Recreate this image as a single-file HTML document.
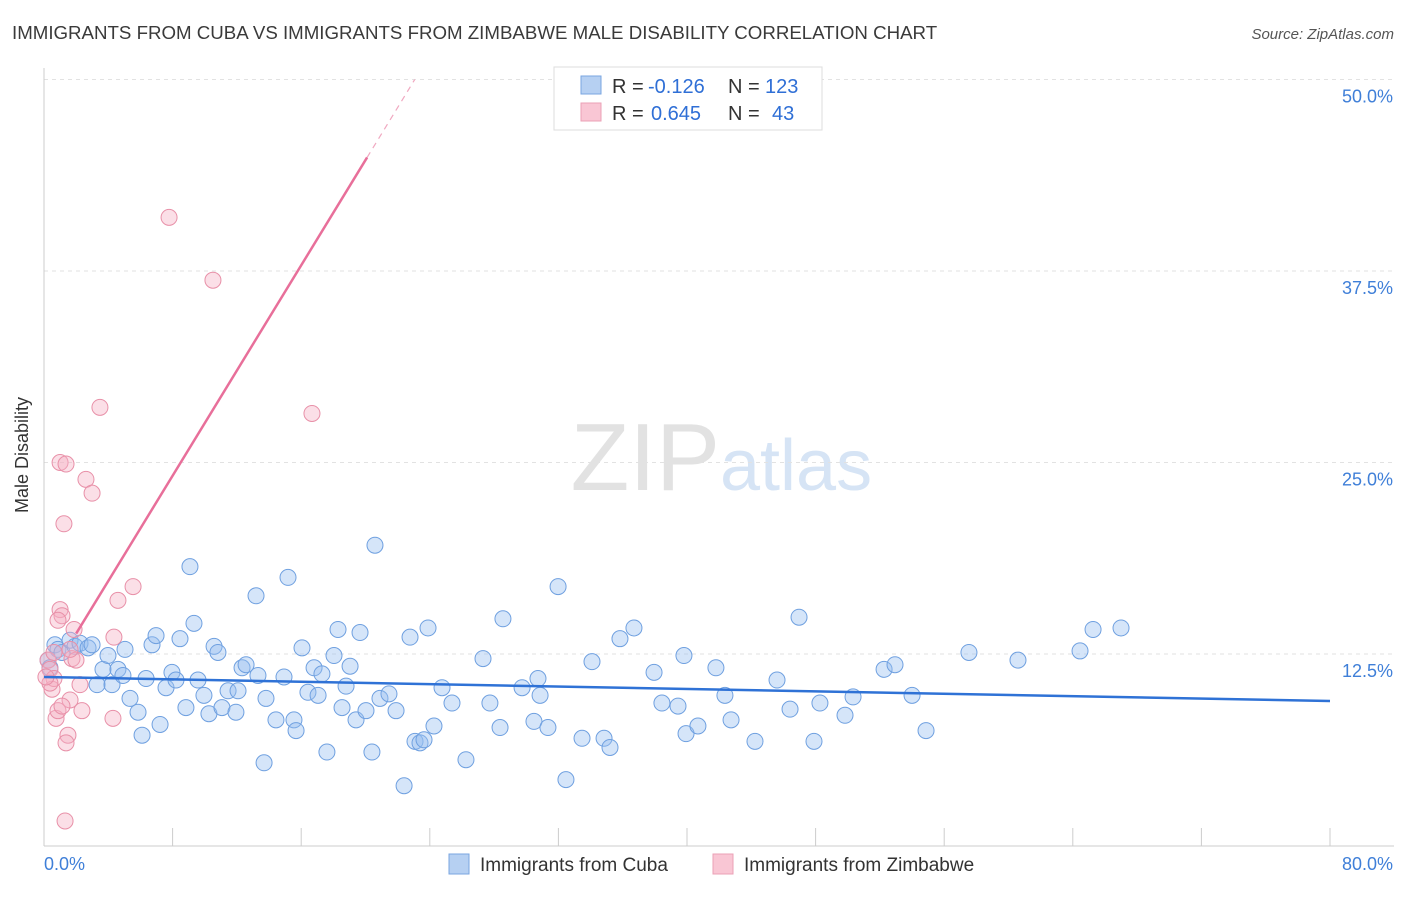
<!DOCTYPE html>
<html><head><meta charset="utf-8"><style>
body{margin:0;background:#fff;font-family:"Liberation Sans",sans-serif;}
svg text{font-family:"Liberation Sans",sans-serif;}
</style></head><body>
<svg id="chart" width="1406" height="892">
<text x="12" y="39" font-size="18.7" fill="#3a3a3a">IMMIGRANTS FROM CUBA VS IMMIGRANTS FROM ZIMBABWE MALE DISABILITY CORRELATION CHART</text>
<text x="1394" y="39" font-size="15" fill="#555" font-style="italic" text-anchor="end">Source: ZipAtlas.com</text>
<text x="720" y="490" font-size="96" fill="#e2e2e2" text-anchor="end" font-family="Liberation Serif">ZIP</text>
<text x="720" y="490" font-size="72" fill="#d6e4f5">atlas</text>
<g id="grid"></g>
<g id="axes"></g>
<g id="pts"></g>
<g id="lines"></g>
<text x="28" y="455" font-size="18" fill="#333" text-anchor="middle" transform="rotate(-90 28 455)">Male Disability</text>
<g>
<rect x="554" y="67" width="268" height="63" fill="#fff" stroke="#ddd"/>
<rect x="581" y="76" width="20" height="18" fill="#b6d0f2" stroke="#7aa6e0"/>
<rect x="581" y="103" width="20" height="18" fill="#f9c6d4" stroke="#eba0b6"/>
<text x="612" y="93" font-size="20" fill="#333">R =</text>
<text x="648" y="93" font-size="20" fill="#2f6fd6">-0.126</text>
<text x="728" y="93" font-size="20" fill="#333">N =</text>
<text x="765" y="93" font-size="20" fill="#2f6fd6">123</text>
<text x="612" y="120" font-size="20" fill="#333">R =</text>
<text x="651" y="120" font-size="20" fill="#2f6fd6">0.645</text>
<text x="728" y="120" font-size="20" fill="#333">N =</text>
<text x="772" y="120" font-size="20" fill="#2f6fd6">43</text>
</g>
<g>
<rect x="449" y="854" width="20" height="20" fill="#b6d0f2" stroke="#7aa6e0"/>
<text x="480" y="871" font-size="19" fill="#333">Immigrants from Cuba</text>
<rect x="713" y="854" width="20" height="20" fill="#f9c6d4" stroke="#eba0b6"/>
<text x="744" y="871" font-size="19" fill="#333">Immigrants from Zimbabwe</text>
</g>
</svg>
<script>
const yTicks=[12.5,25,37.5,50];
const yTickLabels=["12.5%","25.0%","37.5%","50.0%"];
const xTickLabels=["0.0%","80.0%"];
const cubaX=[0.25,0.37,0.68,0.87,1.12,1.62,1.93,2.24,2.74,2.99,3.30,3.67,3.98,4.23,4.60,4.91,5.04,5.35,5.85,6.10,6.35,6.72,6.97,7.22,7.59,7.96,8.21,8.46,8.83,9.08,9.33,9.58,9.95,10.26,10.58,10.82,11.07,11.45,11.94,12.07,12.32,12.57,13.19,13.31,13.69,13.81,14.43,14.93,15.18,15.55,15.68,16.05,16.42,16.80,17.05,17.29,17.60,18.04,18.29,18.54,18.79,19.04,19.41,19.66,20.03,20.40,20.59,20.90,21.46,21.90,22.40,22.77,23.08,23.39,23.64,23.89,24.26,24.76,25.38,26.25,27.31,27.74,28.37,28.55,29.74,30.48,30.73,30.86,31.35,31.98,32.47,33.47,34.09,34.84,35.21,35.83,36.70,37.95,38.44,39.44,39.81,39.94,40.68,41.80,42.36,42.74,44.23,45.60,46.41,46.97,47.90,48.27,49.83,50.33,52.26,52.94,54.00,54.87,57.54,60.59,64.45,65.26,67.00];
const cubaY=[12.1,11.6,13.1,12.8,12.6,13.4,13.0,13.2,12.9,13.1,10.5,11.5,12.4,10.5,11.5,11.1,12.8,9.6,8.7,7.2,10.9,13.1,13.7,7.9,10.3,11.3,10.8,13.5,9.0,18.2,14.5,10.8,9.8,8.6,13.0,12.6,9.0,10.1,8.7,10.1,11.6,11.8,16.3,11.1,5.4,9.6,8.2,11.0,17.5,8.2,7.5,12.9,10.0,11.6,9.8,11.2,6.1,12.4,14.1,9.0,10.4,11.7,8.2,13.9,8.8,6.1,19.6,9.6,9.9,8.8,3.9,13.6,6.8,6.7,6.9,14.2,7.8,10.3,9.3,5.6,12.2,9.3,7.7,14.8,10.3,8.1,10.9,9.8,7.7,16.9,4.3,7.0,12.0,7.0,6.4,13.5,14.2,11.3,9.3,9.1,12.4,7.3,7.8,11.6,9.8,8.2,6.8,10.8,8.9,14.9,6.8,9.3,8.5,9.7,11.5,11.8,9.8,7.5,12.6,12.1,12.7,14.1,14.2];
const zimX=[0.25,0.37,0.50,0.62,0.37,0.75,0.87,1.00,1.12,1.00,1.37,1.24,1.49,1.37,1.62,1.74,1.87,1.99,2.24,2.36,2.61,2.99,3.48,4.29,4.35,4.60,5.54,7.78,10.51,16.67,1.31,0.62,0.12,0.87,1.12,1.62];
const zimY=[12.1,11.5,10.2,10.9,10.6,8.3,8.8,15.4,15.0,25.0,24.9,21.0,7.2,6.7,9.5,12.2,14.1,12.1,10.5,8.8,23.9,23.0,28.6,8.3,13.6,16.0,16.9,41.0,36.9,28.2,1.6,12.6,11.0,14.7,9.1,12.8];
const cubaTrend=[11.0,9.43];
const zimTrend=[10.4,1.717];
const NS="http://www.w3.org/2000/svg";
const X0=44,X1=1330,Y0=845.5,PY=15.32;
const sx=v=>X0+(X1-X0)*v/80, sy=v=>Y0-v*PY;
function mk(t,a,p){const e=document.createElementNS(NS,t);for(const k in a)e.setAttribute(k,a[k]);p.appendChild(e);return e;}
const grid=document.getElementById('grid'),axes=document.getElementById('axes'),pts=document.getElementById('pts'),lines=document.getElementById('lines');
yTicks.forEach((t,i)=>{
 const l=mk('line',{x1:X0,x2:1394,y1:sy(t),y2:sy(t),stroke:'#e2e2e2','stroke-dasharray':'4,4'},grid);
 
 
 const tx=mk('text',{x:1393,y:sy(t)+23,'font-size':18,fill:'#3f7fd8','text-anchor':'end'},axes);
 tx.textContent=yTickLabels[i];
 
 
});
const ya=mk('line',{x1:X0,x2:X0,y1:68,y2:846,stroke:'#ccc'},axes);


const xa=mk('line',{x1:X0,x2:1394,y1:846,y2:846,stroke:'#ccc'},axes);


for(let i=0;i<=10;i++){const tk=mk('line',{x1:sx(i*8),x2:sx(i*8),y1:828,y2:846,stroke:'#ccc'},axes);
 
 }
[[0,44,'start'],[80,1393,'end']].forEach((d,i)=>{const t=mk('text',{x:d[1],y:870,'font-size':18,fill:'#3f7fd8','text-anchor':d[2]},axes);t.textContent=xTickLabels[i];
 
 });
cubaX.forEach((x,i)=>{const c=mk('circle',{cx:sx(x),cy:sy(cubaY[i]),r:8,fill:'rgba(150,190,240,0.4)',stroke:'#6fa0e0','stroke-width':1},pts);
 
 });
zimX.forEach((x,i)=>{const c=mk('circle',{cx:sx(x),cy:sy(zimY[i]),r:8,fill:'rgba(245,175,195,0.4)',stroke:'#e890a8','stroke-width':1},pts);
 
 });
const bl=mk('line',{x1:sx(0),y1:sy(cubaTrend[0]),x2:sx(80),y2:sy(cubaTrend[1]),stroke:'#2f72d6','stroke-width':2.5},lines);


const zy=x=>zimTrend[0]+zimTrend[1]*x;
const xs=2.0,xe=20.1,xd=(50-zimTrend[0])/zimTrend[1];
const pl=mk('line',{x1:sx(xs),y1:sy(zy(xs)),x2:sx(xe),y2:sy(zy(xe)),stroke:'#e86f9a','stroke-width':2.5},lines);


const pd=mk('line',{x1:sx(xe),y1:sy(zy(xe)),x2:sx(xd),y2:sy(50),stroke:'#f0a8c0','stroke-width':1.2,'stroke-dasharray':'6,5'},lines);


</script>
</body></html>
